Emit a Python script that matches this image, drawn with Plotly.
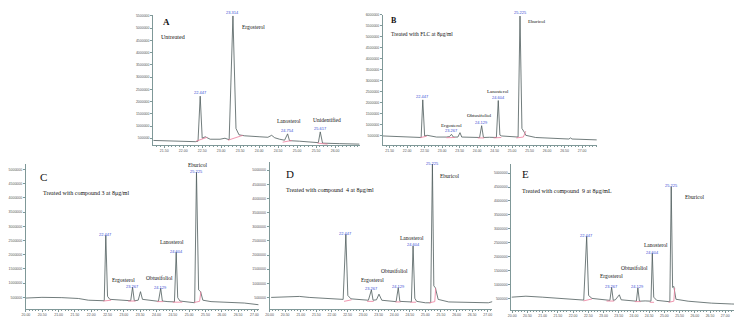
import plotly.graph_objects as go
import numpy as np

W, H = 742, 320

# ---------------- data (retention time in min, signal in counts) ----------------
A_time = [21.21, 21.66, 22.32, 22.39, 22.447, 22.50, 22.58, 22.71, 22.97, 23.10, 23.21, 23.31, 23.39, 23.47, 23.62,
          24.02, 24.23, 24.33, 24.41, 24.54, 24.67, 24.75, 24.80, 25.06, 25.33, 25.56, 25.61, 25.67, 26.11, 26.64]
A_signal = [410000, 380000, 360000, 380000, 2220000, 500000, 560000, 460000, 460000, 500000, 440000, 5500000, 900000,
            640000, 600000, 560000, 540000, 620000, 520000, 460000, 420000, 680000, 400000, 380000, 340000, 320000,
            760000, 300000, 280000, 260000]
A_base_time = [22.34, 22.63, None, 23.18, 23.57, None, 24.62, 24.86, None, 25.54, 25.80]
A_base_signal = [380000, 540000, None, 420000, 620000, None, 340000, 410000, None, 300000, 260000]
A_peak_rt = [22.447, 23.31, 24.75, 25.61]
A_peak_label = ["22.447", "23.314", "24.754", "25.617"]

B_time = [21.31, 21.79, 22.28, 22.40, 22.447, 22.50, 22.57, 22.84, 23.12, 23.21, 23.267, 23.32, 23.45, 23.51, 23.56,
          23.78, 24.07, 24.129, 24.18, 24.35, 24.55, 24.604, 24.65, 24.70, 24.92, 25.17, 25.225, 25.28, 25.35, 25.39,
          25.67, 26.15, 26.62, 26.67, 26.71, 26.91, 27.42]
B_signal = [470000, 440000, 410000, 400000, 2120000, 470000, 500000, 420000, 420000, 440000, 545000, 420000, 420000,
            620000, 420000, 410000, 400000, 940000, 400000, 410000, 400000, 2090000, 510000, 470000, 440000, 420000,
            5950000, 815000, 635000, 500000, 400000, 370000, 330000, 380000, 330000, 320000, 290000]
B_base_time = [22.37, 22.56, None, 23.12, 23.36, None, 24.02, 24.20, None, 24.47, 24.69, None, 25.12, 25.32, 25.39]
B_base_signal = [390000, 460000, None, 390000, 400000, None, 380000, 380000, None, 380000, 400000, None, 380000, 420000, 690000]

C_time = [20.00, 20.49, 21.10, 21.61, 21.91, 22.32, 22.40, 22.447, 22.50, 22.57, 22.83, 23.13, 23.21, 23.267, 23.32,
          23.44, 23.51, 23.57, 23.84, 24.06, 24.129, 24.18, 24.35, 24.55, 24.604, 24.65, 24.72, 24.96, 25.17, 25.225,
          25.29, 25.35, 25.42, 25.67, 26.18, 26.69, 27.13]
C_signal = [475000, 500000, 490000, 460000, 400000, 385000, 380000, 2680000, 535000, 430000, 400000, 380000, 380000,
            855000, 380000, 400000, 700000, 430000, 380000, 360000, 820000, 370000, 350000, 340000, 2090000, 490000,
            370000, 330000, 310000, 4900000, 765000, 700000, 400000, 350000, 330000, 300000, 240000]
C_base_time = [22.37, 22.61, None, 23.13, 23.36, None, 24.02, 24.21, None, 24.50, 24.79, None, 25.15, 25.32, 25.36]
C_base_signal = [370000, 400000, None, 370000, 370000, None, 350000, 350000, None, 330000, 330000, None, 320000, 360000, 700000]

D_time = [20.05, 20.27, 20.96, 21.27, 22.02, 22.36, 22.447, 22.51, 22.61, 22.87, 23.17, 23.267, 23.32, 23.43, 23.51,
          23.60, 23.88, 24.06, 24.129, 24.18, 24.55, 24.604, 24.66, 24.72, 25.00, 25.17, 25.225, 25.27, 25.32, 25.41,
          25.75, 26.49, 27.02, 27.15]
D_signal = [500000, 510000, 535000, 500000, 455000, 430000, 2730000, 570000, 450000, 430000, 400000, 765000, 400000,
            415000, 615000, 400000, 360000, 350000, 845000, 360000, 340000, 2320000, 470000, 360000, 310000, 310000,
            5220000, 910000, 840000, 430000, 340000, 310000, 310000, 350000]
D_base_time = [22.39, 22.63, None, 23.13, 23.34, None, 24.04, 24.20, None, 24.52, 24.70, None, 25.12, 25.30, 25.33]
D_base_signal = [360000, 415000, None, 360000, 360000, None, 340000, 340000, None, 330000, 330000, None, 310000, 350000, 830000]

E_time = [19.98, 20.45, 20.99, 21.54, 22.19, 22.35, 22.447, 22.51, 22.62, 22.84, 23.11, 23.21, 23.267, 23.32, 23.39,
          23.52, 23.58, 23.88, 24.08, 24.129, 24.18, 24.37, 24.56, 24.604, 24.65, 24.75, 25.08, 25.18, 25.225, 25.27,
          25.31, 25.38, 25.78, 26.55, 27.20, 27.64]
E_signal = [545000, 580000, 545000, 510000, 465000, 440000, 2730000, 605000, 500000, 475000, 430000, 430000, 895000,
            430000, 450000, 630000, 450000, 410000, 400000, 875000, 400000, 410000, 400000, 2120000, 545000, 430000,
            380000, 380000, 4510000, 895000, 930000, 470000, 400000, 330000, 300000, 285000]
E_base_time = [22.34, 22.62, None, 23.10, 23.35, None, 24.03, 24.22, None, 24.52, 24.66, None, 25.14, 25.31, 25.34]
E_base_signal = [410000, 480000, None, 405000, 405000, None, 385000, 385000, None, 360000, 360000, None, 360000, 400000, 880000]

treated_peak_rt = [22.447, 23.267, 24.129, 24.604, 25.225]
treated_peak_label = ["22.447", "23.267", "24.129", "24.604", "25.225"]

A_xticks = [21.5, 22.0, 22.5, 23.0, 23.5, 24.0, 24.5, 25.0, 25.5, 26.0]
B_xticks = [21.5, 22.0, 22.5, 23.0, 23.5, 24.0, 24.5, 25.0, 25.5, 26.0, 26.5, 27.0]
CDE_xticks = [20.0, 20.5, 21.0, 21.5, 22.0, 22.5, 23.0, 23.5, 24.0, 24.5, 25.0, 25.5, 26.0, 26.5, 27.0]
A_yticks = [500000, 1000000, 1500000, 2000000, 2500000, 3000000, 3500000, 4000000, 4500000, 5000000, 5500000]
B_yticks = A_yticks + [6000000]
CDE_yticks = [500000, 1000000, 1500000, 2000000, 2500000, 3000000, 3500000, 4000000, 4500000, 5000000]

# ---------------- layout of panels (pixel boxes) ----------------
panels = [
    dict(t=A_time, s=A_signal, bt=A_base_time, bs=A_base_signal, rt=A_peak_rt, lab=A_peak_label, lpos="bottom",
         px=(142, 350), py=(5, 136), xr=[21.21, 26.66], yr=[218000, 5540000], xt=A_xticks, yt=A_yticks),
    dict(t=B_time, s=B_signal, bt=B_base_time, bs=B_base_signal, rt=treated_peak_rt, lab=treated_peak_label, lpos="bottom",
         px=(373, 588), py=(5, 136), xr=[21.31, 27.42], yr=[50000, 6000000], xt=B_xticks, yt=B_yticks),
    dict(t=C_time, s=C_signal, bt=C_base_time, bs=C_base_signal, rt=treated_peak_rt, lab=treated_peak_label, lpos="middle",
         px=(14, 248), py=(155, 301), xr=[20.0, 27.13], yr=[86000, 5190000], xt=CDE_xticks, yt=CDE_yticks),
    dict(t=D_time, s=D_signal, bt=D_base_time, bs=D_base_signal, rt=treated_peak_rt, lab=treated_peak_label, lpos="middle",
         px=(259, 483), py=(153, 301), xr=[20.0, 27.15], yr=[86000, 5290000], xt=CDE_xticks, yt=CDE_yticks),
    dict(t=E_time, s=E_signal, bt=E_base_time, bs=E_base_signal, rt=treated_peak_rt, lab=treated_peak_label, lpos="middle",
         px=(502, 737), py=(155, 302), xr=[19.97, 27.65], yr=[80000, 5325000], xt=CDE_xticks, yt=CDE_yticks),
]

AX = "#7f9898"
LINE = "#4e5c5c"
PINK = "#ec7c9c"
BLUE = "#3a4fd6"
SERIF = "Liberation Serif"

fig = go.Figure()
annotations = []
layout_axes = {}
for i, p in enumerate(panels, start=1):
    xa = "x" if i == 1 else f"x{i}"
    ya = "y" if i == 1 else f"y{i}"
    fig.add_trace(go.Scatter(x=p["t"], y=p["s"], mode="lines", line=dict(color=LINE, width=0.8),
                             xaxis=xa, yaxis=ya, showlegend=False, hoverinfo="skip"))
    fig.add_trace(go.Scatter(x=p["bt"], y=p["bs"], mode="lines", line=dict(color=PINK, width=0.8),
                             xaxis=xa, yaxis=ya, showlegend=False, hoverinfo="skip", connectgaps=False))
    for rt, lab in zip(p["rt"], p["lab"]):
        h = float(np.interp(rt, p["t"], p["s"]))
        annotations.append(dict(x=rt, y=h, xref=xa, yref=ya, text=lab, showarrow=False,
                                yanchor=p["lpos"], yshift=(-1 if p["lpos"] == "bottom" else 1),
                                bgcolor="rgba(255,255,255,0)",
                                font=dict(size=4, color=BLUE, family="Liberation Sans")))
    axkey = "xaxis" if i == 1 else f"xaxis{i}"
    aykey = "yaxis" if i == 1 else f"yaxis{i}"
    layout_axes[axkey] = dict(domain=[p["px"][0] / W, p["px"][1] / W], range=p["xr"], anchor=ya,
                              showline=True, linecolor=AX, linewidth=1, showgrid=False, zeroline=False,
                              ticks="outside", ticklen=1.5, tickcolor=AX, tickwidth=0.6,
                              tickvals=p["xt"], ticktext=[f"{v:.2f}" for v in p["xt"]],
                              tickfont=dict(size=3.5, color="#555", family="Liberation Sans"),
                              minor=dict(dtick=0.1, ticks="outside", ticklen=1.2, tickcolor=AX, tickwidth=0.5))
    layout_axes[aykey] = dict(domain=[1 - p["py"][1] / H, 1 - p["py"][0] / H], range=p["yr"], anchor=xa,
                              showline=True, linecolor=AX, linewidth=1, showgrid=False, zeroline=False,
                              ticks="outside", ticklen=2, tickcolor=AX, tickwidth=0.6,
                              tickvals=p["yt"], ticktext=[str(v) for v in p["yt"]],
                              tickfont=dict(size=3.5, color="#555", family="Liberation Sans"))


def ann(px, py, text, size, xanchor="center"):
    annotations.append(dict(x=px / W, y=1 - py / H, xref="paper", yref="paper", text=text, showarrow=False,
                            xanchor=xanchor, yanchor="middle", font=dict(size=size, color="#111", family=SERIF)))


# panel A
ann(155, 12, "<b>A</b>", 9)
ann(148, 27, "Untreated", 6, "left")
ann(243, 17, "Ergosterol", 5.5)
ann(279, 112, "Lanosterol", 5.5)
ann(317, 111, "Unidentified", 5.5)
# panel B
ann(384, 11, "<b>B</b>", 8)
ann(379, 24, "Treated with FLC at 8μg/ml", 5.5, "left")
ann(442, 116, "Ergosterol", 5)
ann(470, 106, "Obtusifoliol", 5)
ann(489, 82, "Lanosterol", 5)
ann(528, 12, "Eburicol", 5)
# panel C
ann(32, 168, "C", 11)
ann(29, 184, "Treated with compound 3 at 8μg/ml", 6, "left")
ann(112, 272, "Ergosterol", 5.5)
ann(148, 270, "Obtusifoliol", 5.5)
ann(161, 233, "Lanosterol", 5.5)
ann(187, 156, "Eburicol", 5.5)
# panel D
ann(280, 165, "D", 11)
ann(273, 181, "Treated with compound  4 at 8μg/ml", 6, "left")
ann(362, 272, "Ergosterol", 5.5)
ann(385, 263, "Obtusifoliol", 5.5)
ann(402, 229, "Lanosterol", 5.5)
ann(440, 167, "Eburicol", 5.5)
# panel E
ann(516, 165, "E", 11)
ann(511, 182, "Treated with compound  9 at 8μg/mL", 6, "left")
ann(603, 268, "Ergosterol", 5.5)
ann(626, 260, "Obtusifoliol", 5.5)
ann(647, 236, "Lanosterol", 5.5)
ann(686, 188, "Eburicol", 5.5)

fig.update_layout(
    width=W, height=H, margin=dict(l=0, r=0, t=0, b=0),
    paper_bgcolor="white", plot_bgcolor="white",
    annotations=annotations,
    shapes=[dict(type="rect", xref="paper", yref="paper", x0=703 / W, x1=1, y0=0, y1=1 - 312 / H,
                 fillcolor="#e4e4e4", line=dict(width=0))],
    **layout_axes,
)

fig.write_html("out.html")
